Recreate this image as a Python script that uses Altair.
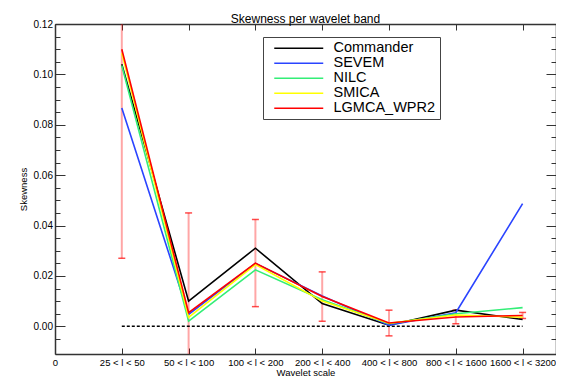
import json
import altair as alt
import pandas as pd

# ---- data ----
bands = [1, 2, 3, 4, 5, 6, 7]
tick_labels = ["0", "25 < l < 50", "50 < l < 100", "100 < l < 200", "200 < l < 400",
               "400 < l < 800", "800 < l < 1600", "1600 < l < 3200"]
series_names = ["Commander", "SEVEM", "NILC", "SMICA", "LGMCA_WPR2"]
commander = [0.1040, 0.0100, 0.0310, 0.0090, 0.0004, 0.0064, 0.0027]
sevem = [0.0867, 0.0047, 0.0250, 0.0120, 0.0004, 0.0054, 0.0487]
nilc = [0.1035, 0.0020, 0.0224, 0.0105, 0.0010, 0.0050, 0.0074]
smica = [0.1085, 0.0035, 0.0245, 0.0100, 0.0012, 0.0045, 0.0036]
lgmca = [0.1100, 0.0054, 0.0251, 0.0118, 0.0013, 0.0037, 0.0043]
lgmca_err = [0.0830, 0.0396, 0.0173, 0.0098, 0.0051, 0.0027, 0.0012]
zero_x = [1, 7]
zero_y = [0.0, 0.0]
colors = ["#000000", "#2a44ff", "#33ee77", "#ffff00", "#ff0000"]

FONT = "Liberation Sans"

rows = []
for name, vals in zip(series_names, [commander, sevem, nilc, smica, lgmca]):
    for b, v in zip(bands, vals):
        rows.append({"band": b, "value": v, "series": name})
lines_df = pd.DataFrame(rows)
err_df = pd.DataFrame({
    "band": bands,
    "low": [v - e for v, e in zip(lgmca, lgmca_err)],
    "high": [v + e for v, e in zip(lgmca, lgmca_err)],
})
zero_df = pd.DataFrame({"band": zero_x, "value": zero_y})

xscale = alt.Scale(domain=[0, 7.5], nice=False, zero=False)
yscale = alt.Scale(domain=[-0.011, 0.12], nice=False, zero=False)

y_values = [round(-0.005 + 0.005 * i, 3) for i in range(26)]
major_expr = "abs(round(datum.value*200)) % 4 == 0"
label_arr = json.dumps(tick_labels)

axis_common = dict(domainColor="#333333", domainWidth=1.5, tickColor="#333333",
                   tickWidth=1, grid=False, labelFont=FONT, labelColor="black",
                   titleFont=FONT, titleColor="black", titleFontWeight="normal")

x_bottom = alt.Axis(orient="bottom", values=list(range(8)),
                    labelExpr=f"{label_arr}[datum.value]",
                    tickSize={"expr": "-6"}, labelPadding=9.5, labelFontSize=9.5,
                    title="Wavelet scale", titleFontSize=9.5, titlePadding=0,
                    labelOverlap=False, labelFlush=False, **axis_common)
y_left = alt.Axis(orient="left", values=y_values,
                  labelExpr=f"{major_expr} ? format(datum.value, '.2f') : ''",
                  tickSize={"expr": f"{major_expr} ? -10 : -5"}, labelPadding=12.5,
                  labelFontSize=10, title="Skewness", titleFontSize=9.5,
                  titlePadding=5, labelOverlap=False, **axis_common)
x_top = alt.Axis(orient="top", values=list(range(8)), labels=False,
                 tickSize={"expr": "-6"}, title=None, **axis_common)
y_right = alt.Axis(orient="right", values=y_values, labels=False,
                   tickSize={"expr": f"{major_expr} ? -10 : -5"}, title=None,
                   **axis_common)

err_rules = alt.Chart(err_df).mark_rule(color="#ff0000", opacity=0.35,
                                        strokeWidth=2, clip=True).encode(
    x=alt.X("band:Q", scale=xscale, axis=x_top),
    y=alt.Y("low:Q", scale=yscale, axis=y_right),
    y2="high:Q",
)
cap_low = alt.Chart(err_df).mark_tick(color="#ff0000", opacity=0.7, size=7,
                                      thickness=1.5, orient="horizontal",
                                      clip=True).encode(
    x=alt.X("band:Q", scale=xscale, axis=None),
    y=alt.Y("low:Q", scale=yscale, axis=None),
)
cap_high = alt.Chart(err_df).mark_tick(color="#ff0000", opacity=0.7, size=7,
                                       thickness=1.5, orient="horizontal",
                                       clip=True).encode(
    x=alt.X("band:Q", scale=xscale, axis=None),
    y=alt.Y("high:Q", scale=yscale, axis=None),
)
zero_line = alt.Chart(zero_df).mark_line(color="black", strokeWidth=1.5,
                                          strokeDash=[3, 2]).encode(
    x=alt.X("band:Q", scale=xscale, axis=None),
    y=alt.Y("value:Q", scale=yscale, axis=None),
)
lines = alt.Chart(lines_df).mark_line(strokeWidth=1.6).encode(
    x=alt.X("band:Q", scale=xscale, axis=x_bottom),
    y=alt.Y("value:Q", scale=yscale, axis=y_left),
    color=alt.Color("series:N",
                    scale=alt.Scale(domain=series_names, range=colors),
                    sort=series_names,
                    legend=alt.Legend(orient="none", legendX=208, legendY=13,
                                      title=None, strokeColor="#444444",
                                      fillColor="white", padding=4,
                                      symbolType="M-4.083,0H4.083", symbolSize=144,
                                      symbolStrokeWidth=1.5, symbolOffset=24.5,
                                      labelFont=FONT, labelFontSize=14.5,
                                      labelColor="black", labelOffset=27.5,
                                      rowPadding=0, labelLimit=0)),
    order=alt.Order("series_order:Q"),
).transform_calculate(
    series_order=f"indexof({json.dumps(series_names)}, datum.series)"
)

chart = alt.layer(err_rules, cap_low, cap_high, zero_line, lines).resolve_axis(
    x="independent", y="independent"
).properties(
    width=501, height=330,
    title=alt.TitleParams("Skewness per wavelet band", font=FONT, fontSize=12,
                          fontWeight="normal", color="black", offset=-7,
                          anchor="middle"),
    autosize=alt.AutoSizeParams(type="none"),
    padding={"left": 47, "top": 16, "right": 0, "bottom": 24},
).configure_view(stroke=None)

chart.save("out.html", embed_options={"renderer": "svg", "actions": False})
